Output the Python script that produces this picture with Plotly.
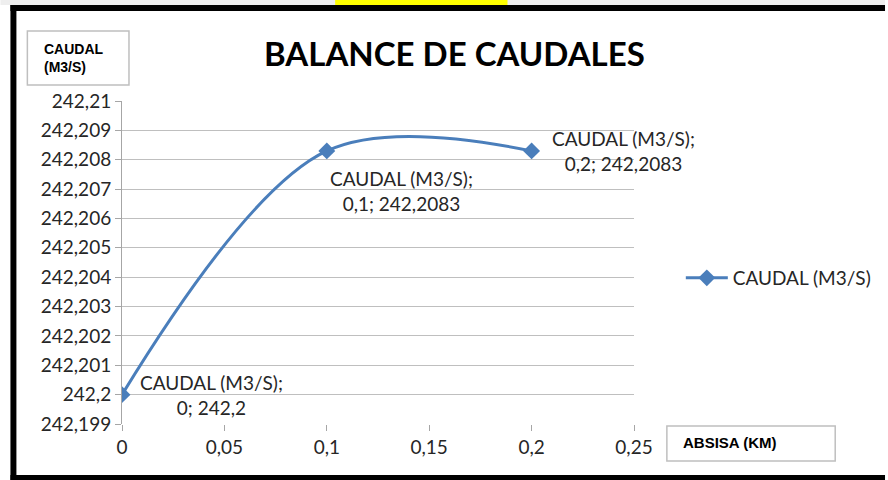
import plotly.graph_objects as go

x_km = [0, 0.1, 0.2]
caudal = [242.2, 242.2083, 242.2083]
point_labels = ["CAUDAL (M3/S);<br>0; 242,2", "CAUDAL (M3/S);<br>0,1; 242,2083", "CAUDAL (M3/S);<br>0,2; 242,2083"]
y_ticks = [242.199, 242.2, 242.201, 242.202, 242.203, 242.204, 242.205, 242.206, 242.207, 242.208, 242.209, 242.21]
y_ticktext = ["242,199", "242,2", "242,201", "242,202", "242,203", "242,204", "242,205", "242,206", "242,207", "242,208", "242,209", "242,21"]
x_ticks = [0, 0.05, 0.1, 0.15, 0.2, 0.25]
x_ticktext = ["0", "0,05", "0,1", "0,15", "0,2", "0,25"]

W, H = 888, 480
L, R, T, B = 122, 636, 101, 424

def px(x):
    return (x - L) / (R - L)

def pyy(y):
    return (B - y) / (B - T)

FONT = "Lato, Calibri, Carlito, sans-serif"
BLUE = "#4A7EBB"
TXT = "#262626"

fig = go.Figure()
fig.add_trace(go.Scatter(
    x=x_km, y=caudal, mode="lines+markers",
    line=dict(color=BLUE, width=3, shape="spline", smoothing=1.0),
    marker=dict(symbol="diamond", size=13, color=BLUE),
    name="CAUDAL (M3/S)", showlegend=True,
))
offsets = [dict(xanchor="left", yanchor="middle", xshift=16, yshift=0),
           dict(xanchor="left", yanchor="top", xshift=1, yshift=-14),
           dict(xanchor="left", yanchor="middle", xshift=18, yshift=0)]
for xv, yv, t, o in zip(x_km, caudal, point_labels, offsets):
    fig.add_annotation(x=xv, y=yv, text=t, showarrow=False, align="center",
                       font=dict(family=FONT, size=19, color=TXT), **o)

shapes = []
shapes.append(dict(type="rect", xref="paper", yref="paper", x0=px(0), x1=px(W), y0=pyy(5), y1=pyy(0),
                   fillcolor="#EEEEEE", line=dict(width=0), layer="below"))
shapes.append(dict(type="rect", xref="paper", yref="paper", x0=px(336), x1=px(509), y0=pyy(5), y1=pyy(0),
                   fillcolor="#FFFF00", line=dict(width=0)))
shapes.append(dict(type="rect", xref="paper", yref="paper", x0=px(10), x1=px(W), y0=pyy(11), y1=pyy(5),
                   fillcolor="black", line=dict(width=0)))
shapes.append(dict(type="rect", xref="paper", yref="paper", x0=px(10), x1=px(16), y0=pyy(480), y1=pyy(5),
                   fillcolor="black", line=dict(width=0)))
shapes.append(dict(type="rect", xref="paper", yref="paper", x0=px(10), x1=px(W), y0=pyy(480), y1=pyy(475),
                   fillcolor="black", line=dict(width=0)))
shapes.append(dict(type="rect", xref="paper", yref="paper", x0=px(27), x1=px(129), y0=pyy(85), y1=pyy(31),
                   line=dict(color="#BFBFBF", width=1.5)))
shapes.append(dict(type="rect", xref="paper", yref="paper", x0=px(669), x1=px(838), y0=pyy(461), y1=pyy(426),
                   line=dict(color="#BFBFBF", width=1.5)))
fig.update_layout(shapes=shapes)

fig.add_annotation(xref="paper", yref="paper", x=px(42), y=pyy(58), text="<b>CAUDAL<br>(M3/S)</b>",
                   showarrow=False, xanchor="left", yanchor="middle", align="left",
                   font=dict(family="Liberation Sans, Arial, sans-serif", size=14, color="black"))
fig.add_annotation(xref="paper", yref="paper", x=px(683), y=pyy(442), text="<b>ABSISA (KM)</b>",
                   showarrow=False, xanchor="left", yanchor="middle", align="left",
                   font=dict(family="Liberation Sans, Arial, sans-serif", size=15, color="black"))
fig.add_annotation(xref="paper", yref="paper", x=px(456), y=pyy(53), text="<b>BALANCE DE CAUDALES</b>",
                   showarrow=False, xanchor="center", yanchor="middle",
                   font=dict(family=FONT, size=33, color="black"))

fig.update_layout(
    width=W, height=H, autosize=False,
    margin=dict(l=L, r=W - R, t=T, b=H - B, pad=0),
    paper_bgcolor="white", plot_bgcolor="white",
    showlegend=True,
    legend=dict(x=px(683), y=pyy(278), xanchor="left", yanchor="middle",
                font=dict(family=FONT, size=19, color=TXT), bgcolor="rgba(0,0,0,0)",
                itemwidth=42),
    xaxis=dict(range=[0, 0.25], tickvals=x_ticks, ticktext=x_ticktext, showgrid=False,
               showline=False, ticks="outside", ticklen=6, tickcolor="#A6A6A6",
               tickfont=dict(family=FONT, size=19, color=TXT), zeroline=False, fixedrange=True),
    yaxis=dict(range=[242.199, 242.21], tickvals=y_ticks, ticktext=y_ticktext, showgrid=True,
               gridcolor="#BFBFBF", gridwidth=1, showline=True, linecolor="#A6A6A6", linewidth=1,
               ticks="outside", ticklen=6, tickcolor="#A6A6A6",
               tickfont=dict(family=FONT, size=19, color=TXT), zeroline=False, fixedrange=True),
)

fig.write_html("out.html", config={"displayModeBar": False},
               post_script="document.body.style.margin='0';document.body.style.overflow='hidden';")
